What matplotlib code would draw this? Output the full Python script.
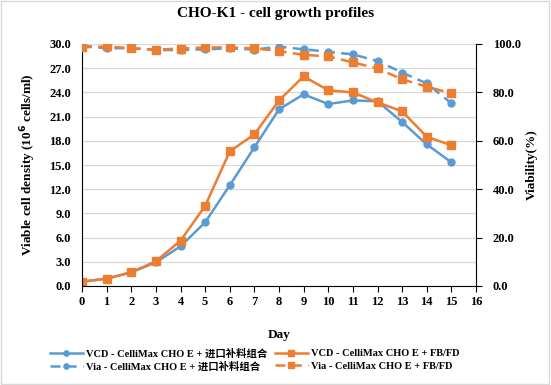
import matplotlib.pyplot as plt
import numpy as np

plt.rcParams['font.family'] = ['Liberation Serif', 'Noto Sans CJK SC']
plt.rcParams['font.weight'] = 'bold'

days = list(range(16))
vcd_import = [0.54, 0.91, 1.7, 2.93, 4.92, 7.89, 12.48, 17.19, 21.9, 23.76, 22.56, 23.0, 22.9, 20.33, 17.56, 15.33]
vcd_fbfd = [0.54, 0.91, 1.7, 3.06, 5.62, 9.92, 16.69, 18.8, 23.0, 25.99, 24.26, 24.0, 22.77, 21.65, 18.51, 17.44]
via_import = [99.4, 98.2, 98.3, 97.5, 97.5, 97.8, 98.2, 97.7, 98.9, 97.8, 96.8, 95.7, 93.0, 88.2, 83.7, 75.5]
via_fbfd = [98.6, 99.0, 98.2, 97.7, 98.1, 98.6, 98.6, 98.2, 97.1, 95.5, 94.9, 92.4, 89.9, 85.4, 82.4, 79.6]

labels = ["VCD - CelliMax CHO E + 进口补料组合", "VCD - CelliMax CHO E + FB/FD",
          "Via - CelliMax CHO E + 进口补料组合", "Via - CelliMax CHO E + FB/FD"]

blue = "#5B9BD5"
orange = "#ED7D31"

fig = plt.figure(figsize=(5.51, 3.85), dpi=100)
fig.patches.append(plt.Rectangle((0.002, 0.003), 0.995, 0.994, transform=fig.transFigure,
                                 fill=False, edgecolor="#D9D9D9", linewidth=1))
ax = fig.add_axes([82 / 551, 1 - 286 / 385, 394 / 551, 242 / 385])
ax2 = ax.twinx()

l1, = ax.plot(days, vcd_import, color=blue, lw=1.8, marker="o", ms=5, label=labels[0])
l2, = ax.plot(days, vcd_fbfd, color=orange, lw=1.8, marker="s", ms=5.5, label=labels[1])
l3, = ax2.plot(days, via_import, color=blue, lw=1.8, ls=(0, (4, 2.5)), marker="o", ms=5, label=labels[2])
l4, = ax2.plot(days, via_fbfd, color=orange, lw=1.8, ls=(0, (4, 2.5)), marker="s", ms=5.5, label=labels[3])

ax.set_xlim(0, 16)
ax.set_ylim(0, 30)
ax.set_yticks(np.arange(0, 30.1, 3))
ax.set_yticklabels([f"{v:.1f}" for v in np.arange(0, 30.1, 3)])
ax.set_xticks(range(17))
ax2.set_ylim(0, 100)
ax2.set_yticks(np.arange(0, 101, 20))
ax2.set_yticklabels([f"{v:.1f}" for v in np.arange(0, 101, 20)])

ax.grid(axis="y", color="#D9D9D9", lw=0.9)
ax.set_axisbelow(True)
for a in (ax, ax2):
    a.spines["top"].set_visible(False)
ax2.spines["left"].set_visible(False)
ax2.spines["bottom"].set_visible(False)
ax.spines["right"].set_visible(False)
ax.tick_params(axis="y", length=0, labelsize=9, pad=8)
ax.tick_params(axis="x", length=4, labelsize=9, direction="out")
ax2.tick_params(axis="y", length=4, labelsize=9, pad=8)

ax.set_xlabel("Day", fontsize=9.5, fontweight="bold", labelpad=15)
ax.set_ylabel("Viable cell density (10$^{\\mathbf{6}}$ cells/ml)", fontsize=9.5, fontweight="bold", labelpad=8)
ax2.set_ylabel("Viability(%)", fontsize=9.5, fontweight="bold", labelpad=4)
fig.text(0.5, 1 - 14 / 385, "CHO-K1 - cell growth profiles", ha="center", va="center",
         fontsize=11, fontweight="bold")

fig.legend(handles=[l1, l3, l2, l4], loc="center", bbox_to_anchor=(0.462, 1 - 360 / 385),
           ncol=2, frameon=False, fontsize=7.5, handlelength=3.2, columnspacing=0.7,
           labelspacing=0.3, handletextpad=0.3, markerscale=0.75)

fig.savefig("out.png", dpi=100)
